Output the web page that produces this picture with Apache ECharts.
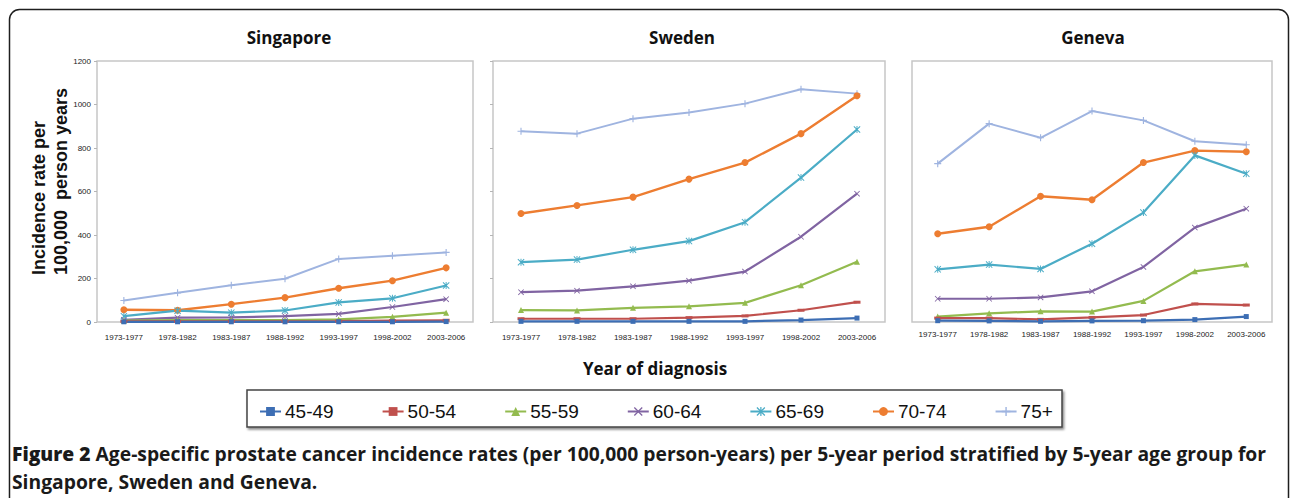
<!DOCTYPE html>
<html>
<head>
<meta charset="utf-8">
<script src="https://cdn.jsdelivr.net/npm/echarts@6/dist/echarts.min.js"></script>
<style>
  html, body { margin: 0; padding: 0; background: #fff; }
  #chart { width: 1290px; height: 498px; }
</style>
</head>
<body>
<div id="chart"></div>
<script>
// ---------- DATA ----------
const periods = ['1973-1977', '1978-1982', '1983-1987', '1988-1992', '1993-1997', '1998-2002', '2003-2006'];
const ageGroups = ['45-49', '50-54', '55-59', '60-64', '65-69', '70-74', '75+'];
const yTicks = [0, 200, 400, 600, 800, 1000, 1200];

// Singapore (incidence per 100,000 person-years)
const sgp_45_49 = [1, 1, 1, 1, 1, 1, 2];
const sgp_50_54 = [3, 3, 3, 3, 4, 6, 8];
const sgp_55_59 = [6, 9, 9, 9, 12, 24, 43];
const sgp_60_64 = [10, 20, 21, 27, 37, 69, 105];
const sgp_65_69 = [27, 52, 43, 53, 90, 109, 168];
const sgp_70_74 = [56, 54, 82, 112, 155, 190, 249];
const sgp_75p   = [99, 134, 169, 199, 290, 305, 320];

// Sweden
const swe_45_49 = [3, 3, 3, 3, 3, 9, 18];
const swe_50_54 = [15, 15, 15, 20, 28, 54, 91];
const swe_55_59 = [55, 53, 65, 72, 88, 169, 277];
const swe_60_64 = [137, 144, 164, 190, 232, 392, 590];
const swe_65_69 = [275, 287, 332, 372, 459, 664, 885];
const swe_70_74 = [499, 536, 574, 657, 733, 866, 1040];
const swe_75p   = [877, 866, 935, 963, 1004, 1070, 1050];

// Geneva
const gen_45_49 = [6, 5, 3, 5, 6, 11, 25];
const gen_50_54 = [18, 18, 12, 21, 32, 83, 78];
const gen_55_59 = [25, 40, 49, 48, 97, 233, 264];
const gen_60_64 = [107, 107, 113, 141, 253, 434, 521];
const gen_65_69 = [242, 264, 244, 360, 503, 766, 682];
const gen_70_74 = [406, 438, 578, 562, 733, 788, 783];
const gen_75p   = [728, 912, 847, 970, 927, 831, 815];

const countries = ['Singapore', 'Sweden', 'Geneva'];
const captionBold = 'Figure 2';
const captionRest1 = ' Age-specific prostate cancer incidence rates (per 100,000 person-years) per 5-year period stratified by 5-year age group for';
const captionLine2 = 'Singapore, Sweden and Geneva.';
const xAxisTitle = 'Year of diagnosis';
const yAxisTitle = 'Incidence rate per\n100,000  person years';

// ---------- STYLE ----------
const colors = ['#3d6eb4', '#c0504d', '#93bb4f', '#8064a2', '#4bacc6', '#ed7d31', '#9fb4e0'];
const symX = 'path://M1,0 L5,4 L9,0 L10,1 L6,5 L10,9 L9,10 L5,6 L1,10 L0,9 L4,5 L0,1 Z';
const symStar = 'path://M1,0 L5,4 L9,0 L10,1 L6,5 L10,9 L9,10 L5,6 L1,10 L0,9 L4,5 L0,1 Z M4.3,0 L5.7,0 L5.7,10 L4.3,10 Z';
const symPlus = 'path://M4.2,0 L5.8,0 L5.8,4.2 L10,4.2 L10,5.8 L5.8,5.8 L5.8,10 L4.2,10 L4.2,5.8 L0,5.8 L0,4.2 L4.2,4.2 Z';
const symbols = ['rect', 'rect', 'triangle', symX, symStar, 'circle', symPlus];
const symbolSizes = [5, [7, 3], 6, 6, 7, 7, 7];
const lineWidths = [2.2, 2.2, 2.2, 2.2, 2.2, 2.4, 2];

const dataByCountry = [
  [sgp_45_49, sgp_50_54, sgp_55_59, sgp_60_64, sgp_65_69, sgp_70_74, sgp_75p],
  [swe_45_49, swe_50_54, swe_55_59, swe_60_64, swe_65_69, swe_70_74, swe_75p],
  [gen_45_49, gen_50_54, gen_55_59, gen_60_64, gen_65_69, gen_70_74, gen_75p]
];

const grids = [
  { left: 97, top: 61, width: 376, height: 261 },
  { left: 493, top: 61, width: 392, height: 261 },
  { left: 912, top: 61, width: 360, height: 261 }
];
const titleX = [284, 677, 1088];
const labelMargins = [11, 11, 8];

const chart = echarts.init(document.getElementById('chart'), null, { renderer: 'svg' });

const series = [];
for (let c = 0; c < 3; c++) {
  for (let a = ageGroups.length - 1; a >= 0; a--) {
    series.push({
      type: 'line',
      name: ageGroups[a],
      xAxisIndex: c,
      yAxisIndex: c,
      data: dataByCountry[c][a],
      symbol: symbols[a],
      symbolSize: symbolSizes[a],
      showAllSymbol: true,
      color: colors[a],
      lineStyle: { width: lineWidths[a], color: colors[a] },
      itemStyle: { color: colors[a] },
      emphasis: { disabled: true },
      animation: false
    });
  }
}

const option = {
  animation: false,
  backgroundColor: '#ffffff',
  title: countries.map((t, i) => ({
    text: t,
    left: titleX[i],
    top: 24,
    textAlign: 'center',
    textStyle: { fontFamily: 'Open Sans', fontWeight: 'bold', fontSize: 17, color: '#111' }
  })),
  grid: grids.map(g => Object.assign({ show: true, borderColor: '#c6c6c6', borderWidth: 1.5, backgroundColor: 'transparent' }, g)),
  xAxis: grids.map((g, i) => ({
    type: 'category',
    gridIndex: i,
    data: periods,
    boundaryGap: true,
    axisLine: { show: false },
    axisTick: { show: false },
    axisLabel: { interval: 0, fontFamily: 'Arial', fontSize: 8, color: '#1a1a1a', margin: labelMargins[i] }
  })),
  yAxis: grids.map((g, i) => ({
    type: 'value',
    gridIndex: i,
    min: yTicks[0],
    max: yTicks[yTicks.length - 1],
    interval: yTicks[1] - yTicks[0],
    splitLine: { show: false },
    axisLine: { show: false },
    axisTick: { show: i < 2, length: 3, lineStyle: { color: '#b5b5b5' } },
    axisLabel: { show: i === 0, fontFamily: 'Arial', fontSize: 8, color: '#1a1a1a', margin: 6, formatter: v => String(v) }
  })),
  legend: {
    data: ageGroups,
    left: 254,
    top: 397,
    itemGap: 48,
    itemWidth: 21,
    itemHeight: 11,
    textStyle: { fontFamily: 'Arial', fontSize: 19, color: '#111', padding: [0, 0, 0, -1] },
    selectedMode: false
  },
  graphic: [
    {
      type: 'rect',
      shape: { x: 9.5, y: 9.5, width: 1279, height: 540, r: 10 },
      style: { fill: 'none', stroke: '#1e1e1e', lineWidth: 1.5 },
      silent: true, z: 0
    },
    {
      type: 'rect',
      shape: { x: 247, y: 390, width: 815, height: 37 },
      style: { fill: '#fff', stroke: '#444', lineWidth: 1.5, shadowBlur: 2, shadowOffsetX: 1.5, shadowOffsetY: 2, shadowColor: 'rgba(0,0,0,0.45)' },
      silent: true, z: -1
    },
    {
      type: 'text',
      x: 50, y: 275,
      rotation: Math.PI / 2,
      style: {
        text: yAxisTitle,
        font: 'bold 18px Arial',
        fill: '#111',
        align: 'left', verticalAlign: 'middle',
        textAlign: 'left', textVerticalAlign: 'middle',
        lineHeight: 22
      },
      silent: true
    },
    {
      type: 'text',
      x: 655, y: 368,
      style: {
        text: xAxisTitle,
        font: 'bold 17px "Open Sans"',
        fill: '#111',
        align: 'center', verticalAlign: 'middle',
        textAlign: 'center', textVerticalAlign: 'middle'
      },
      silent: true
    },
    {
      type: 'text',
      x: 12, y: 453,
      style: {
        text: '{b|' + captionBold + '}{r|' + captionRest1 + '}',
        rich: {
          b: { fontFamily: 'Open Sans', fontWeight: 800, fontSize: 19.3, fill: '#1a1a1a', color: '#1a1a1a' },
          r: { fontFamily: 'Open Sans', fontWeight: 700, fontSize: 19.3, fill: '#1a1a1a', color: '#1a1a1a' }
        },
        align: 'left', verticalAlign: 'middle',
        textAlign: 'left', textVerticalAlign: 'middle'
      },
      silent: true
    },
    {
      type: 'text',
      x: 12, y: 481,
      style: {
        text: captionLine2,
        font: '700 19.3px "Open Sans"',
        fill: '#1a1a1a',
        align: 'left', verticalAlign: 'middle',
        textAlign: 'left', textVerticalAlign: 'middle'
      },
      silent: true
    }
  ],
  series: series
};

chart.setOption(option);
</script>
</body>
</html>
